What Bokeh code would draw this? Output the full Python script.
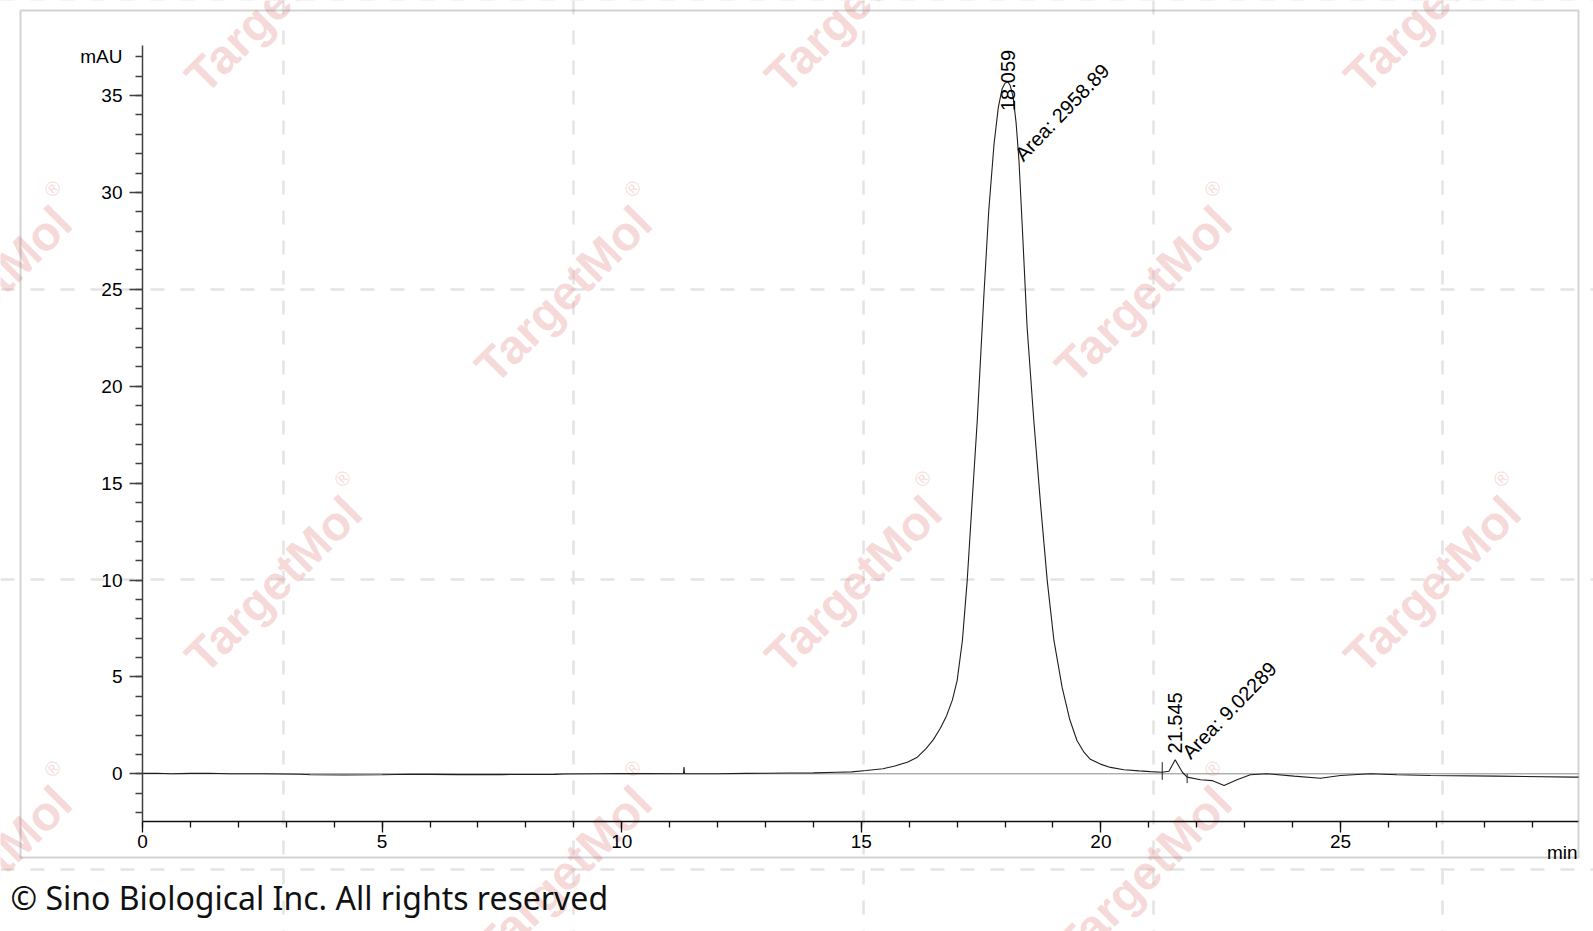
import math
from bokeh.plotting import figure
from bokeh.models import Range1d, LinearAxis, FixedTicker, Label, Span, BoxAnnotation, ColumnDataSource
from bokeh.core.properties import value
from bokeh.embed import file_html
from bokeh.resources import INLINE

# ---------------- data ----------------
time_min = [0.0, 0.3, 0.6, 1.0, 1.4, 1.8, 2.5, 3.3, 3.5, 4.2, 5.0, 5.6, 6.0, 6.6, 7.5,
            8.6, 8.8, 9.5, 10.0, 10.5, 11.29, 11.30, 11.31, 12.0, 12.6, 13.0, 13.5,
            14.0, 14.5, 14.8, 15.1, 15.45, 15.7, 15.96, 16.17, 16.35, 16.5, 16.65,
            16.78, 16.9, 17.0, 17.11, 17.21, 17.31, 17.42, 17.56, 17.66, 17.77, 17.86,
            17.94, 18.0, 18.06, 18.11, 18.17, 18.23, 18.29, 18.36, 18.46, 18.60, 18.74,
            18.88, 19.02, 19.19, 19.35, 19.50, 19.65, 19.78, 19.99, 20.2, 20.48, 20.8,
            21.03, 21.28, 21.42, 21.55, 21.70, 21.80, 22.08, 22.32, 22.57, 22.84, 23.12,
            23.47, 24.03, 24.58, 25.0, 25.63, 26.18, 26.88, 28.27, 29.87, 29.97]
signal_mau = [0.02, 0.03, 0.0, 0.02, 0.03, 0.0, 0.0, -0.02, -0.05, -0.06, -0.05, -0.02,
              -0.03, -0.04, -0.04, -0.03, -0.01, 0.0, 0.01, 0.01, 0.0, 0.35, 0.0, 0.0,
              0.02, 0.03, 0.04, 0.05, 0.08, 0.10, 0.17, 0.26, 0.40, 0.60, 0.86, 1.30,
              1.75, 2.35, 3.0, 3.8, 4.81, 6.88, 9.97, 13.93, 18.23, 24.77, 29.07, 32.5,
              34.4, 35.35, 35.65, 35.7, 35.5, 34.9, 33.6, 31.65, 28.2, 23.04, 18.23,
              13.93, 9.97, 6.88, 4.47, 2.80, 1.72, 1.10, 0.75, 0.50, 0.33, 0.21, 0.15,
              0.11, 0.08, 0.13, 0.72, 0.08, -0.17, -0.31, -0.35, -0.60, -0.31, -0.05,
              0.0, -0.12, -0.23, -0.09, 0.0, -0.05, -0.09, -0.12, -0.17, -0.17]
baseline_time = [0.0, 29.97]
baseline_mau = [0.0, 0.0]

peak_rt = [18.059, 21.545]
peak_area = [2958.89, 9.02289]
rt_label_y = [34.2, 1.05]
area_label_x = [18.28, 21.77]
area_label_y = [31.8, 0.95]

marker_time = [21.28, 21.80]
marker_top = [0.6, 0.0]
marker_bottom = [-0.31, -0.48]

y_major_ticks = [0, 5, 10, 15, 20, 25, 30, 35]
y_minor_ticks = list(range(-2, 38))
x_major_ticks = [0, 5, 10, 15, 20, 25]
x_minor_ticks = list(range(0, 30))
y_unit = "mAU"
x_unit = "min"
copyright_text = "© Sino Biological Inc. All rights reserved"
watermark_text = "TargetMol"

# ---------------- layout (page pixels) ----------------
W, H = 1593, 931
M = 0
X0_PX, PX_PER_MIN = 142.0, 47.92
Y0_PX, PX_PER_MAU = 773.3, 19.38


def dx(px):
    return (px - X0_PX) / PX_PER_MIN


def dy(py):
    return (Y0_PX - py) / PX_PER_MAU


X_AXIS_END = dx(1578)
Y_AXIS_BOTTOM = dy(820.7)
Y_AXIS_TOP = dy(45)

p = figure(width=W, height=H, output_backend="svg", toolbar_location=None,
           x_range=Range1d(dx(M), dx(M + W)), y_range=Range1d(dy(M + H), dy(M)),
           x_axis_location=None, y_axis_location=None, min_border=0)
p.min_border_left = p.min_border_right = p.min_border_top = p.min_border_bottom = 0
p.outline_line_color = None
p.background_fill_color = "white"
p.border_fill_color = "white"
p.grid.visible = False

# watermark dashed grid
grid_x_px = [-7, 283, 573, 863, 1153, 1442]
grid_y_px = [-1, 289, 579, 869]
for gx in grid_x_px:
    p.add_layout(Span(location=dx(gx), dimension="height", line_color="#e4e4e4",
                      line_width=2.5, line_dash="14 16", level="underlay"))
for gy in grid_y_px:
    p.add_layout(Span(location=dy(gy), dimension="width", line_color="#e4e4e4",
                      line_width=2.5, line_dash="14 16", level="underlay"))

wm_x, wm_y, r_x, r_y = [], [], [], []
for j, gy in enumerate(grid_y_px):
    for i, gx in enumerate(grid_x_px):
        if (i + j) % 2 == 1:
            wm_x.append(dx(gx - 10)); wm_y.append(dy(gy + 5))
            r_x.append(dx(gx + 59)); r_y.append(dy(gy - 101))
p.text(x=wm_x, y=wm_y, text=[watermark_text] * len(wm_x), angle=math.radians(45),
       text_align="center", text_baseline="middle", text_font=value("Liberation Sans"),
       text_font_style="bold", text_font_size="48px", text_color="#e89a9a", text_alpha=0.38)
p.text(x=r_x, y=r_y, text=["®"] * len(r_x), angle=math.radians(45),
       text_align="center", text_baseline="middle", text_font=value("Liberation Sans"),
       text_font_size="20px", text_color="#e89a9a", text_alpha=0.38)

# outer frame
p.add_layout(BoxAnnotation(left=dx(20), right=dx(1578), top=dy(10), bottom=dy(857),
                           fill_color=None, line_color="#6e6e6e", line_width=2))

# baseline and trace
p.line(baseline_time, baseline_mau, line_color="#8a8a8a", line_width=1)
p.line(time_min, signal_mau, line_color="#1e1e1e", line_width=1.1)
p.segment(x0=marker_time, y0=marker_top, x1=marker_time, y1=marker_bottom,
          line_color="#1e1e1e", line_width=1)

# peak annotations
src = ColumnDataSource(dict(
    rt=peak_rt, rty=rt_label_y, ax=area_label_x, ay=area_label_y,
    rt_txt=[f"{r:.3f}" for r in peak_rt],
    area_txt=[f"Area: {a:g}" for a in peak_area]))
p.text(x="rt", y="rty", text="rt_txt", source=src, angle=math.pi / 2,
       text_align="left", text_baseline="middle", text_font=value("Liberation Sans"),
       text_font_size="20px", text_color="black")
p.text(x="ax", y="ay", text="area_txt", source=src, angle=math.radians(46),
       text_align="left", text_baseline="alphabetic", text_font=value("Liberation Sans"),
       text_font_size="20px", text_color="black")

# axes
yaxis = LinearAxis(fixed_location=0.0, bounds=(Y_AXIS_BOTTOM, Y_AXIS_TOP),
                   ticker=FixedTicker(ticks=y_major_ticks, minor_ticks=y_minor_ticks))
xaxis = LinearAxis(fixed_location=Y_AXIS_BOTTOM, bounds=(0.0, X_AXIS_END),
                   ticker=FixedTicker(ticks=x_major_ticks, minor_ticks=x_minor_ticks))
for ax, col, tin, tmin, st in ((yaxis, "#404040", 13, 7, 7), (xaxis, "#101010", 11, 6, 3)):
    ax.axis_line_color = col
    ax.axis_line_width = 1.5
    ax.major_tick_line_color = col
    ax.minor_tick_line_color = col
    ax.major_tick_line_width = 1.3
    ax.minor_tick_line_width = 1.3
    ax.major_tick_in = 0
    ax.minor_tick_in = 0
    ax.major_tick_out = tin
    ax.minor_tick_out = tmin
    ax.major_label_standoff = st
    ax.major_label_text_font = "Liberation Sans"
    ax.major_label_text_font_size = "19px"
    ax.major_label_text_color = "black"
p.add_layout(yaxis, "left")
p.add_layout(xaxis, "below")

p.add_layout(Label(x=dx(122), y=37, text=y_unit, text_align="right", text_baseline="middle",
                   text_font="Liberation Sans", text_font_size="19px", text_color="black"))
p.add_layout(Label(x=dx(1577), y=dy(852), text=x_unit, text_align="right",
                   text_baseline="alphabetic", text_font="Liberation Sans",
                   text_font_size="19px", text_color="black"))
p.add_layout(Label(x=dx(10), y=dy(897), text=copyright_text, text_align="left",
                   text_baseline="alphabetic", text_font="Noto Sans",
                   text_font_size="32px", text_color="#111111"))

open("out.html", "w").write(file_html(p, INLINE))
